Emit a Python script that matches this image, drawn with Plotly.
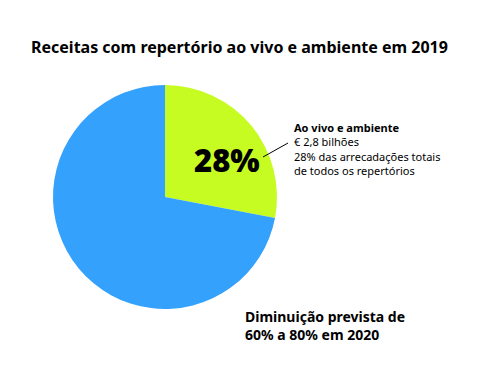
import plotly.graph_objects as go

labels = ["Ao vivo e ambiente", "Outros repertórios"]
values = [28, 72]
colors = ["#c6fc22", "#34a2fd"]
pct_label = "28%"
title = "Receitas com repertório ao vivo e ambiente em 2019"
note_lines = ["<b>Ao vivo e ambiente</b>", "€ 2,8 bilhões",
              "28% das arrecadações totais", "de todos os repertórios"]
bottom_lines = ["Diminuição prevista de", "60% a 80% em 2020"]

OFF = 8  # page body margin
W, H = 500 - OFF, 382 - OFF
def px(x): return (x - OFF) / W
def py(y): return 1 - (y - OFF) / H

fig = go.Figure(go.Pie(
    labels=labels, values=values, sort=False, direction="clockwise", rotation=0,
    marker=dict(colors=colors, line=dict(width=0)), textinfo="none",
    hoverinfo="label+percent", showlegend=False,
    domain=dict(x=[px(53), px(277)], y=[py(309), py(85)]),
))

ann = []
ann.append(dict(text=f"<b>{title}</b>", x=px(239), y=py(47), xref="paper", yref="paper",
                showarrow=False, xanchor="center", yanchor="middle",
                font=dict(family="Noto Sans", size=16, color="#000")))
ann.append(dict(text=pct_label, x=px(227), y=py(160), xref="paper", yref="paper",
                showarrow=False, xanchor="center", yanchor="middle",
                font=dict(family="Noto Sans", size=31, color="#000", weight=900)))
ann.append(dict(text="<br>".join(note_lines), x=px(292), y=py(118), xref="paper", yref="paper",
                showarrow=False, xanchor="left", yanchor="top", align="left",
                font=dict(family="Noto Sans", size=11, color="#000")))
ann.append(dict(text="<br>".join(f"<b>{l}</b>" for l in bottom_lines), x=px(243), y=py(305),
                xref="paper", yref="paper", showarrow=False, xanchor="left", yanchor="top",
                align="left", font=dict(family="Noto Sans", size=14, color="#000")))

fig.update_layout(
    width=W, height=H, margin=dict(l=0, r=0, t=0, b=0),
    paper_bgcolor="white", plot_bgcolor="white",
    annotations=ann,
    shapes=[dict(type="line", xref="paper", yref="paper", x0=px(263), y0=py(157),
                 x1=px(288), y1=py(143), line=dict(color="#000", width=1))],
)
fig.write_html("out.html")
